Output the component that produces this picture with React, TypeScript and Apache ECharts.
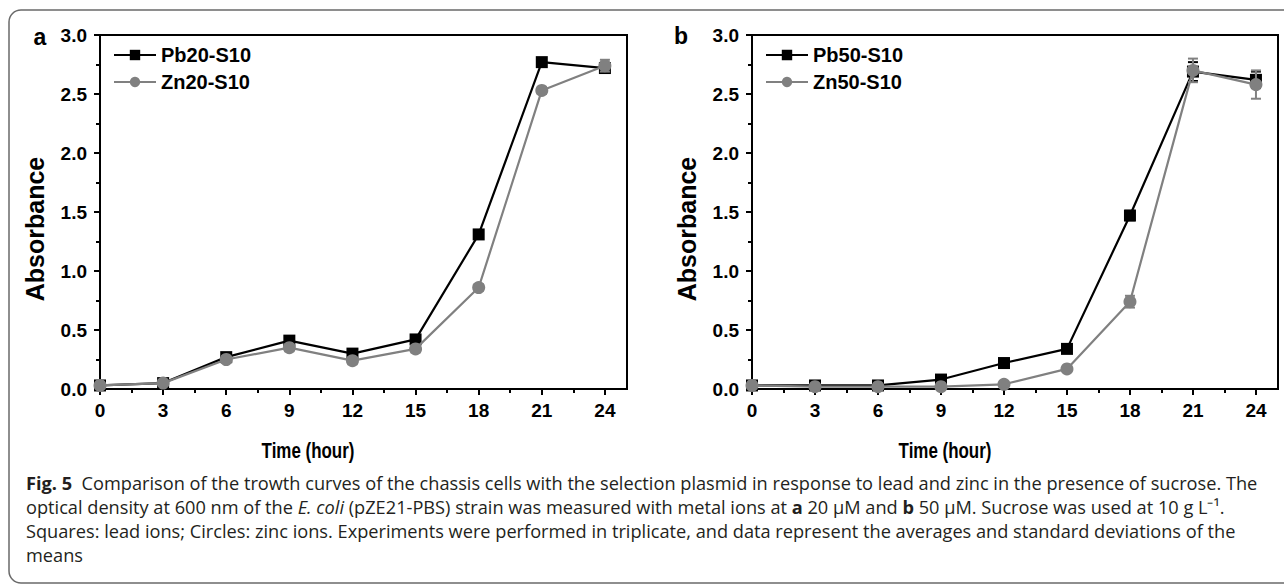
import React, { useEffect, useRef } from "react";
import * as echarts from "echarts";

const hours = [0, 3, 6, 9, 12, 15, 18, 21, 24];
const minorHours = [1.5, 4.5, 7.5, 10.5, 13.5, 16.5, 19.5, 22.5];

const pb20 = [0.03, 0.05, 0.27, 0.41, 0.3, 0.42, 1.31, 2.77, 2.72];
const pb20Err = [0.01, 0.01, 0.03, 0.03, 0.03, 0.03, 0.03, 0.02, 0.04];
const zn20 = [0.03, 0.05, 0.25, 0.35, 0.24, 0.34, 0.86, 2.53, 2.74];
const zn20Err = [0.01, 0.02, 0.03, 0.03, 0.03, 0.03, 0.03, 0.03, 0.05];

const pb50 = [0.03, 0.03, 0.03, 0.08, 0.22, 0.34, 1.47, 2.69, 2.62];
const pb50Err = [0.01, 0.01, 0.01, 0.02, 0.03, 0.03, 0.04, 0.08, 0.07];
const zn50 = [0.03, 0.02, 0.02, 0.02, 0.04, 0.17, 0.74, 2.7, 2.58];
const zn50Err = [0.01, 0.01, 0.01, 0.01, 0.01, 0.02, 0.05, 0.1, 0.12];

const namesA = ["Pb20-S10", "Zn20-S10"];
const namesB = ["Pb50-S10", "Zn50-S10"];

const BLACK = "#000000";
const GRAY = "#808080";
const AX_FONT = "Liberation Sans";
const CAP_FONT = "Open Sans";
const CAP_SIZE = 18.2;

const captionLines = [
  "{b|Fig. 5}{n|  Comparison of the trowth curves of the chassis cells with the selection plasmid in response to lead and zinc in the presence of sucrose. The}",
  "{n|optical density at 600 nm of the }{i|E. coli}{n| (pZE21-PBS) strain was measured with metal ions at }{b|a}{n| 20 µM and }{b|b}{n| 50 µM. Sucrose was used at 10 g L⁻¹.}",
  "{n|Squares: lead ions; Circles: zinc ions. Experiments were performed in triplicate, and data represent the averages and standard deviations of the}",
  "{n|means}",
];

const X_MAX = 25.05;

export default function App() {
  const ref = useRef<HTMLDivElement>(null);

  useEffect(() => {
    if (!ref.current) return;
    const chart = echarts.init(ref.current, null, { renderer: "svg" });

    const grids = [
      { left: 100, top: 35, width: 527, height: 354 },
      { left: 752, top: 35, width: 526, height: 354 },
    ];

    const xAxes: any[] = [];
    const yAxes: any[] = [];
    grids.forEach((g, gi) => {
      xAxes.push({
        type: "value",
        gridIndex: gi,
        min: 0,
        max: X_MAX,
        position: "bottom",
        axisLine: { show: true, lineStyle: { color: BLACK, width: 2 } },
        axisTick: { show: true, length: 6, lineStyle: { color: BLACK, width: 2 }, customValues: hours },
        axisLabel: {
          customValues: hours,
          margin: 12,
          color: BLACK,
          fontSize: 19,
          fontWeight: "bold",
          fontFamily: AX_FONT,
          formatter: (v: number) => String(v),
        },
        splitLine: { show: false },
      });
      xAxes.push({
        type: "value",
        gridIndex: gi,
        min: 0,
        max: X_MAX,
        position: "bottom",
        offset: 0,
        axisLine: { show: false },
        axisTick: { show: true, length: 4, lineStyle: { color: BLACK, width: 2 }, customValues: minorHours },
        axisLabel: { show: false },
        splitLine: { show: false },
      });
      yAxes.push({
        type: "value",
        gridIndex: gi,
        min: 0,
        max: 3,
        interval: 0.5,
        axisLine: { show: true, lineStyle: { color: BLACK, width: 2 } },
        axisTick: { show: true, length: 6, lineStyle: { color: BLACK, width: 2 } },
        minorTick: { show: true, splitNumber: 2, length: 4, lineStyle: { color: BLACK, width: 2 } },
        axisLabel: {
          margin: 13,
          color: BLACK,
          fontSize: 19,
          fontWeight: "bold",
          fontFamily: AX_FONT,
          formatter: (v: number) => v.toFixed(1),
        },
        splitLine: { show: false },
        minorSplitLine: { show: false },
      });
    });

    const errSeries = (xIdx: number, yIdx: number, vals: number[], errs: number[], color: string, z: number) => ({
      type: "custom",
      xAxisIndex: xIdx,
      yAxisIndex: yIdx,
      silent: true,
      z,
      clip: false,
      data: hours.map((h, i) => [h, vals[i] - errs[i], vals[i] + errs[i]]),
      encode: { x: 0, y: [1, 2] },
      renderItem: (_p: any, api: any) => {
        const x = api.value(0);
        const lo = api.coord([x, api.value(1)]);
        const hi = api.coord([x, api.value(2)]);
        const w = 5;
        const st = { stroke: color, lineWidth: 2 };
        return {
          type: "group",
          children: [
            { type: "line", shape: { x1: hi[0], y1: hi[1], x2: lo[0], y2: lo[1] }, style: st },
            { type: "line", shape: { x1: hi[0] - w, y1: hi[1], x2: hi[0] + w, y2: hi[1] }, style: st },
            { type: "line", shape: { x1: lo[0] - w, y1: lo[1], x2: lo[0] + w, y2: lo[1] }, style: st },
          ],
        };
      },
    });

    const lineSeries = (name: string, xIdx: number, yIdx: number, vals: number[], color: string, symbol: string, size: number, z: number) => ({
      type: "line",
      name,
      xAxisIndex: xIdx,
      yAxisIndex: yIdx,
      data: hours.map((h, i) => [h, vals[i]]),
      symbol,
      symbolSize: size,
      showAllSymbol: true,
      clip: false,
      z,
      lineStyle: { color, width: 2.2 },
      itemStyle: { color, borderWidth: 0 },
      emphasis: { disabled: true },
    });

    const series: any[] = [
      errSeries(0, 0, pb20, pb20Err, BLACK, 2),
      lineSeries(namesA[0], 0, 0, pb20, BLACK, "rect", 12, 2),
      errSeries(0, 0, zn20, zn20Err, GRAY, 3),
      lineSeries(namesA[1], 0, 0, zn20, GRAY, "circle", 13, 3),
      errSeries(2, 1, pb50, pb50Err, BLACK, 2),
      lineSeries(namesB[0], 2, 1, pb50, BLACK, "rect", 12, 2),
      errSeries(2, 1, zn50, zn50Err, GRAY, 3),
      lineSeries(namesB[1], 2, 1, zn50, GRAY, "circle", 13, 3),
    ];

    const legendBase = {
      orient: "vertical",
      top: 45,
      padding: 0,
      itemWidth: 42,
      itemHeight: 13,
      itemGap: 7,
      selectedMode: false,
      textStyle: { color: BLACK, fontSize: 20, fontWeight: "bold", fontFamily: AX_FONT, lineHeight: 20, padding: [0, 0, 0, 0] },
    };

    const captionText = (i: number) => ({
      type: "text",
      x: 26,
      y: 483 + i * 24,
      style: {
        text: captionLines[i],
        fill: "#231f20",
        verticalAlign: "middle",
        align: "left",
        rich: {
          n: { fontSize: CAP_SIZE, fontFamily: CAP_FONT, fill: "#231f20", color: "#231f20" },
          b: { fontSize: CAP_SIZE, fontFamily: CAP_FONT, fontWeight: "bold", fill: "#231f20", color: "#231f20" },
          i: { fontSize: CAP_SIZE, fontFamily: CAP_FONT, fontStyle: "italic", fill: "#231f20", color: "#231f20" },
        },
      },
    });

    const boldText = (text: string, x: number, y: number, size: number, rot = 0, sx = 1) => ({
      type: "text",
      x,
      y,
      rotation: rot,
      scaleX: sx,
      style: {
        text,
        fill: BLACK,
        font: `bold ${size}px "Liberation Sans"`,
        align: "center",
        verticalAlign: "middle",
      },
    });

    chart.setOption({
      animation: false,
      backgroundColor: "#ffffff",
      grid: grids.map((g) => ({ ...g, show: true, borderColor: BLACK, borderWidth: 2, backgroundColor: "transparent", containLabel: false })),
      xAxis: xAxes,
      yAxis: yAxes,
      legend: [
        { ...legendBase, left: 113, data: namesA },
        { ...legendBase, left: 765, data: namesB },
      ],
      series,
      graphic: [
        {
          type: "rect",
          shape: { x: 9, y: 10, width: 1300, height: 573, r: 12 },
          style: { fill: "none", stroke: "#6a6a6a", lineWidth: 1.5 },
          silent: true,
        },
        boldText("a", 40, 37, 23),
        boldText("b", 681, 36, 23),
        boldText("Absorbance", 35, 229, 25, Math.PI / 2),
        boldText("Absorbance", 687, 229, 25, Math.PI / 2),
        boldText("Time (hour)", 308, 450, 22, 0, 0.77),
        boldText("Time (hour)", 945, 450, 22, 0, 0.77),
        captionText(0),
        captionText(1),
        captionText(2),
        captionText(3),
      ],
    });

    return () => chart.dispose();
  }, []);

  return <div ref={ref} style={{ position: "fixed", left: 0, top: 0, width: 1284, height: 584 }} />;
}
